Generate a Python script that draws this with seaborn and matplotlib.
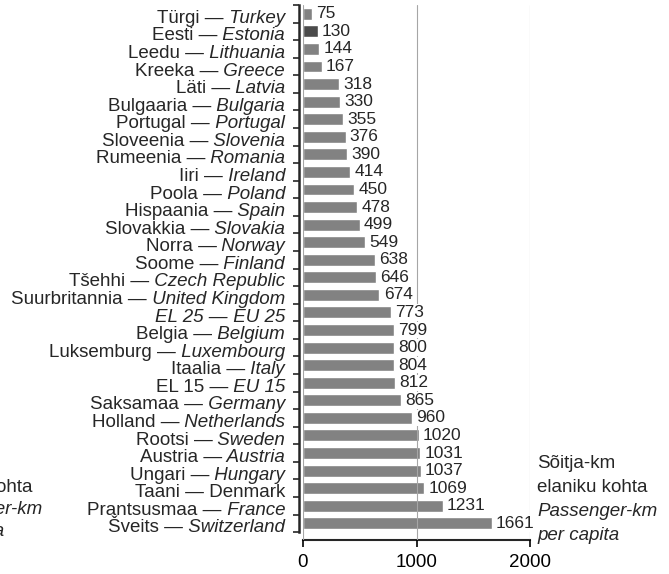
import matplotlib
matplotlib.use("Agg")
import matplotlib.pyplot as plt
import seaborn as sns
import pandas as pd

# Passenger-km per capita, top to bottom as in the chart
est_names = ["Türgi", "Eesti", "Leedu", "Kreeka", "Läti", "Bulgaaria", "Portugal",
             "Sloveenia", "Rumeenia", "Iiri", "Poola", "Hispaania", "Slovakkia",
             "Norra", "Soome", "Tšehhi", "Suurbritannia", "EL 25", "Belgia",
             "Luksemburg", "Itaalia", "EL 15", "Saksamaa", "Holland", "Rootsi",
             "Austria", "Ungari", "Taani", "Prantsusmaa", "Šveits"]
eng_names = ["Turkey", "Estonia", "Lithuania", "Greece", "Latvia", "Bulgaria", "Portugal",
             "Slovenia", "Romania", "Ireland", "Poland", "Spain", "Slovakia",
             "Norway", "Finland", "Czech Republic", "United Kingdom", "EU 25", "Belgium",
             "Luxembourg", "Italy", "EU 15", "Germany", "Netherlands", "Sweden",
             "Austria", "Hungary", "Denmark", "France", "Switzerland"]
values = [75, 130, 144, 167, 318, 330, 355, 376, 390, 414, 450, 478, 499, 549, 638,
          646, 674, 773, 799, 800, 804, 812, 865, 960, 1020, 1031, 1037, 1069, 1231, 1661]
highlight = "Eesti"
x_ticks = [0, 1000, 2000]

df = pd.DataFrame({"country": est_names, "value": values})
colors = {c: ("#4b4b4b" if c == highlight else "#828282") for c in est_names}

sns.set_style("white")
plt.rcParams["font.family"] = ["Liberation Sans", "DejaVu Sans"]

W, H = 669, 574
fig = plt.figure(figsize=(W / 100, H / 100), dpi=100)
ax = fig.add_axes([303 / W, 1 - 540 / H, 227 / W, 535 / H])

sns.barplot(data=df, x="value", y="country", hue="country", palette=colors,
            legend=False, width=0.68, orient="h", ax=ax, saturation=1)

n = len(est_names)
ax.set_xlim(0, 2000)
ax.set_ylim(n - 0.05, -0.5)
ax.set_xlabel("")
ax.set_ylabel("")

# grid over the bars, value labels with white boxes over the grid
ax.set_axisbelow(False)
ax.xaxis.grid(True, color="#a6a6a6", linewidth=0.8)
ax.yaxis.grid(False)

for cont in ax.containers:
    labs = ax.bar_label(cont, padding=3, fontsize=12.5)
    for t in labs:
        t.set_bbox(dict(facecolor="white", edgecolor="none", pad=0.5))
        t.set_zorder(4)

# spines
for s in ["top", "right"]:
    ax.spines[s].set_visible(False)
ax.spines["left"].set_position(("outward", 3))
ax.spines["left"].set_linewidth(1.8)
ax.spines["left"].set_bounds(-0.5, n - 0.5)
ax.spines["bottom"].set_linewidth(1.5)
ax.spines["bottom"].set_bounds(0, 2000)

ax.set_xticks(x_ticks)
ax.set_xticklabels([str(v) for v in x_ticks], fontsize=13.5)
ax.tick_params(axis="x", direction="out", length=5, width=1.2, pad=5,
               bottom=True, colors="black")

# y ticks at the category boundaries, labels drawn separately
ax.set_yticks([i - 0.5 for i in range(n + 1)])
ax.set_yticklabels([])
ax.tick_params(axis="y", direction="out", length=4, width=1.2, left=True)

fs = 13.5
trans = ax.get_yaxis_transform()
xlab = (285 - 303) / 227
for i, (e, g) in enumerate(zip(est_names, eng_names)):
    y = i + 0.52
    eng_style = "normal" if g == "Denmark" else "italic"
    est_style = "italic" if e == "EL 25" else "normal"
    t2 = ax.text(xlab, y, " " + g, style=eng_style, fontsize=fs, ha="right",
                 va="baseline", transform=trans, clip_on=False)
    ax.annotate(e + " —", xy=(0, y), xycoords=(t2, trans), style=est_style,
                fontsize=fs, ha="right", va="baseline", annotation_clip=False)

# unit text on the right
fig.text(537 / W, 1 - 463 / H, "Sõitja-km", fontsize=fs, va="center")
fig.text(537 / W, 1 - 488 / H, "elaniku kohta", fontsize=fs, va="center")
fig.text(537 / W, 1 - 512 / H, "Passenger-km", fontsize=fs, va="center", style="italic")
fig.text(537 / W, 1 - 535 / H, "per capita", fontsize=fs, va="center", style="italic")

# same unit text from the neighbouring chart, cut at the left edge
fig.text(32 / W, 1 - 487 / H, "elaniku kohta", fontsize=fs, va="center", ha="right")
fig.text(43 / W, 1 - 510 / H, "Passenger-km", fontsize=fs, va="center", ha="right",
         style="italic")
fig.text(5 / W, 1 - 531 / H, "per capita", fontsize=fs, va="center", ha="right",
         style="italic")

fig.savefig("out.png", dpi=100)
